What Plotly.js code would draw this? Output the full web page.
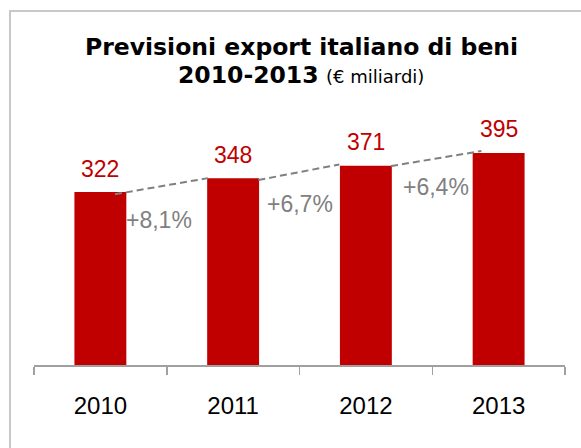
<!DOCTYPE html>
<html>
<head>
<meta charset="utf-8">
<script src="https://cdn.plot.ly/plotly-3.0.1.min.js"></script>
<style>
  html, body { margin: 0; padding: 0; background: #ffffff; }
  #chart { width: 581px; height: 448px; }
</style>
</head>
<body>
<div id="chart"></div>
<script>
// ---- data ----
var years = ["2010", "2011", "2012", "2013"];
var exportValues = [322, 348, 371, 395];
var growthLabels = ["+8,1%", "+6,7%", "+6,4%"];
var titleLine1 = "Previsioni export italiano di beni";
var titleLine2 = "2010-2013";
var unitLabel = "(€ miliardi)";

// ---- placement of decorations (layout, not data) ----
var growthPos = [[0.44, 270], [1.50, 300], [2.53, 332]];
var trendSegments = [
  [0.11, 318, 0.81, 348],
  [1.19, 344.5, 1.80, 373.5],
  [2.19, 370.5, 2.87, 398.5]
];

var RED = "#C00000";
var GRAY = "#808080";
var AXIS = "#A0A0A0";
var LABEL_FONT = "Liberation Sans, Arial, sans-serif";
var TITLE_FONT = "DejaVu Sans, sans-serif";

var bars = {
  type: "bar",
  x: years,
  y: exportValues,
  marker: { color: RED, line: { width: 0 } },
  hoverinfo: "none"
};

var annotations = [];
exportValues.forEach(function (v, i) {
  annotations.push({
    x: i, y: v, xref: "x", yref: "y",
    text: String(v), showarrow: false,
    xanchor: "center", yanchor: "middle", yshift: 23.5,
    font: { family: LABEL_FONT, size: 23, color: RED }
  });
});
growthLabels.forEach(function (t, i) {
  annotations.push({
    x: growthPos[i][0], y: growthPos[i][1], xref: "x", yref: "y",
    text: t, showarrow: false,
    xanchor: "center", yanchor: "middle",
    font: { family: LABEL_FONT, size: 23, color: GRAY }
  });
});
annotations.push({
  x: 0.503, y: 1.2008, xref: "paper", yref: "paper",
  text: "<b>" + titleLine1 + "</b>", showarrow: false,
  xanchor: "center", yanchor: "middle",
  font: { family: TITLE_FONT, size: 23.5, color: "#000000" }
});
annotations.push({
  x: 0.503, y: 1.0962, xref: "paper", yref: "paper",
  text: "<b>" + titleLine2 + "</b> <span style='font-size:18px'>" + unitLabel + "</span>",
  showarrow: false,
  xanchor: "center", yanchor: "middle",
  font: { family: TITLE_FONT, size: 23.5, color: "#000000" }
});

var shapes = [];
trendSegments.forEach(function (s) {
  shapes.push({
    type: "line", xref: "x", yref: "y",
    x0: s[0], y0: s[1], x1: s[2], y1: s[3],
    line: { color: GRAY, width: 2, dash: "7px,4px" },
    layer: "above"
  });
});
// outer frame
shapes.push({
  type: "rect", xref: "paper", yref: "paper",
  x0: (10 - 34) / 531.5, x1: (600 - 34) / 531.5,
  y0: (365 - 470) / 265, y1: (365 - 11) / 265,
  line: { color: "#C8C8C8", width: 2 },
  fillcolor: "rgba(0,0,0,0)",
  layer: "below"
});

var layout = {
  width: 581,
  height: 448,
  margin: { l: 34, r: 15.5, t: 100, b: 83, pad: 0 },
  paper_bgcolor: "#ffffff",
  plot_bgcolor: "rgba(0,0,0,0)",
  showlegend: false,
  bargap: 0.609,
  xaxis: {
    type: "category",
    range: [-0.5, 3.5],
    tickson: "boundaries",
    ticks: "outside",
    ticklen: 8,
    tickwidth: 1.5,
    tickcolor: AXIS,
    showline: true,
    linecolor: AXIS,
    linewidth: 2,
    showgrid: false,
    zeroline: false,
    ticklabelstandoff: 18,
    tickfont: { family: LABEL_FONT, size: 24, color: "#000000" },
    fixedrange: true
  },
  yaxis: {
    range: [0, 493.5],
    visible: false,
    showgrid: false,
    zeroline: false,
    fixedrange: true
  },
  annotations: annotations,
  shapes: shapes
};

Plotly.newPlot("chart", [bars], layout, { displayModeBar: false, staticPlot: true });
</script>
</body>
</html>
